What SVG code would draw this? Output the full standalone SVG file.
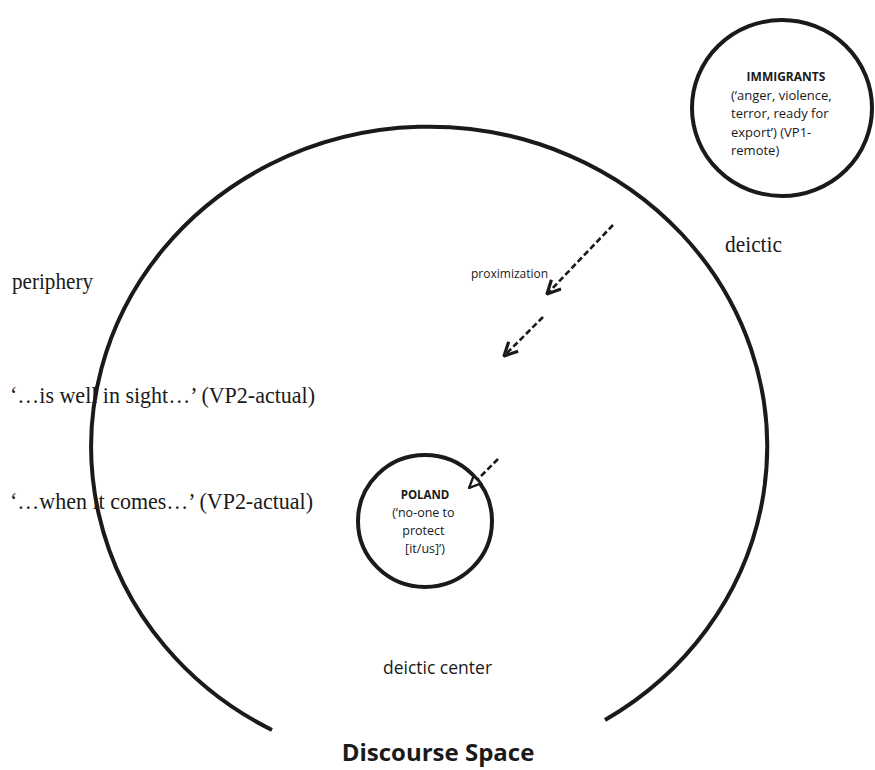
<svg xmlns="http://www.w3.org/2000/svg" width="875" height="770" viewBox="0 0 875 770">
<style>
.ring{fill:none;stroke:#1a1a1a;stroke-width:4}
.serif{font-family:"Liberation Serif","Times New Roman",serif;font-size:23px;fill:#1a1a1a}
.sans{font-family:"Open Sans","Liberation Sans",sans-serif;fill:#1a1a1a}
.b{font-weight:bold}
.dash{fill:none;stroke:#1a1a1a;stroke-width:2.6;stroke-dasharray:6 3}
</style>
<defs>
<marker id="vhead" markerUnits="userSpaceOnUse" markerWidth="16" markerHeight="16" viewBox="0 0 12 12" refX="11" refY="6" orient="auto">
<path d="M1,1 L11,6 L1,11" fill="none" stroke="#1a1a1a" stroke-width="2.4" stroke-dasharray="none"/>
</marker>
<marker id="thead" markerUnits="userSpaceOnUse" markerWidth="14" markerHeight="14" viewBox="0 0 12 12" refX="11" refY="6" orient="auto">
<path d="M1,1.5 L11,6 L1,10.5 Z" fill="#fff" stroke="#1a1a1a" stroke-width="2" stroke-dasharray="none"/>
</marker>
</defs>
<rect width="875" height="770" fill="#fff"/>

<g id="labels">
<text class="serif" x="12" y="289" textLength="81" lengthAdjust="spacingAndGlyphs">periphery</text>
<text class="serif" x="725" y="252" textLength="57" lengthAdjust="spacingAndGlyphs">deictic</text>
<text class="serif" x="10" y="403" textLength="305" lengthAdjust="spacingAndGlyphs">‘…is well in sight…’ (VP2-actual)</text>
<text class="serif" x="10" y="509" textLength="303" lengthAdjust="spacingAndGlyphs">‘…when it comes…’ (VP2-actual)</text>
<text class="sans" x="437.5" y="674" font-size="17.5" text-anchor="middle">deictic center</text>
<text class="sans b" x="438" y="761" font-size="24" text-anchor="middle">Discourse Space</text>
<text class="sans" x="471" y="278" font-size="12">proximization</text>
</g>

<g id="discourse-space">
<path class="ring" d="M272,730 A338,320 0 1 1 605,720"/>
</g>

<g id="immigrants">
<ellipse class="ring" cx="782" cy="108" rx="90" ry="88"/>
<text class="sans b" x="786" y="81" font-size="12" text-anchor="middle">IMMIGRANTS</text>
<text class="sans" font-size="13">
<tspan x="731" y="100">(‘anger, violence,</tspan>
<tspan x="731" y="118">terror, ready for</tspan>
<tspan x="731" y="137">export’) (VP1-</tspan>
<tspan x="731" y="155">remote)</tspan>
</text>
</g>

<g id="poland">
<ellipse class="ring" cx="425" cy="521" rx="67" ry="66"/>
<text class="sans b" x="425" y="499" font-size="11.5" text-anchor="middle">POLAND</text>
<text class="sans" font-size="12.5" text-anchor="middle">
<tspan x="425" y="517">(‘no-one to</tspan>
<tspan x="425" y="535">protect</tspan>
<tspan x="425" y="553">[it/us]’)</tspan>
</text>
</g>

<g id="connectors">
<line class="dash" x1="613" y1="225" x2="547" y2="294" marker-end="url(#vhead)"/>
<line class="dash" x1="543" y1="317" x2="504" y2="356" marker-end="url(#vhead)"/>
<line class="dash" x1="498" y1="459" x2="469" y2="488" marker-end="url(#thead)"/>
</g>
</svg>
